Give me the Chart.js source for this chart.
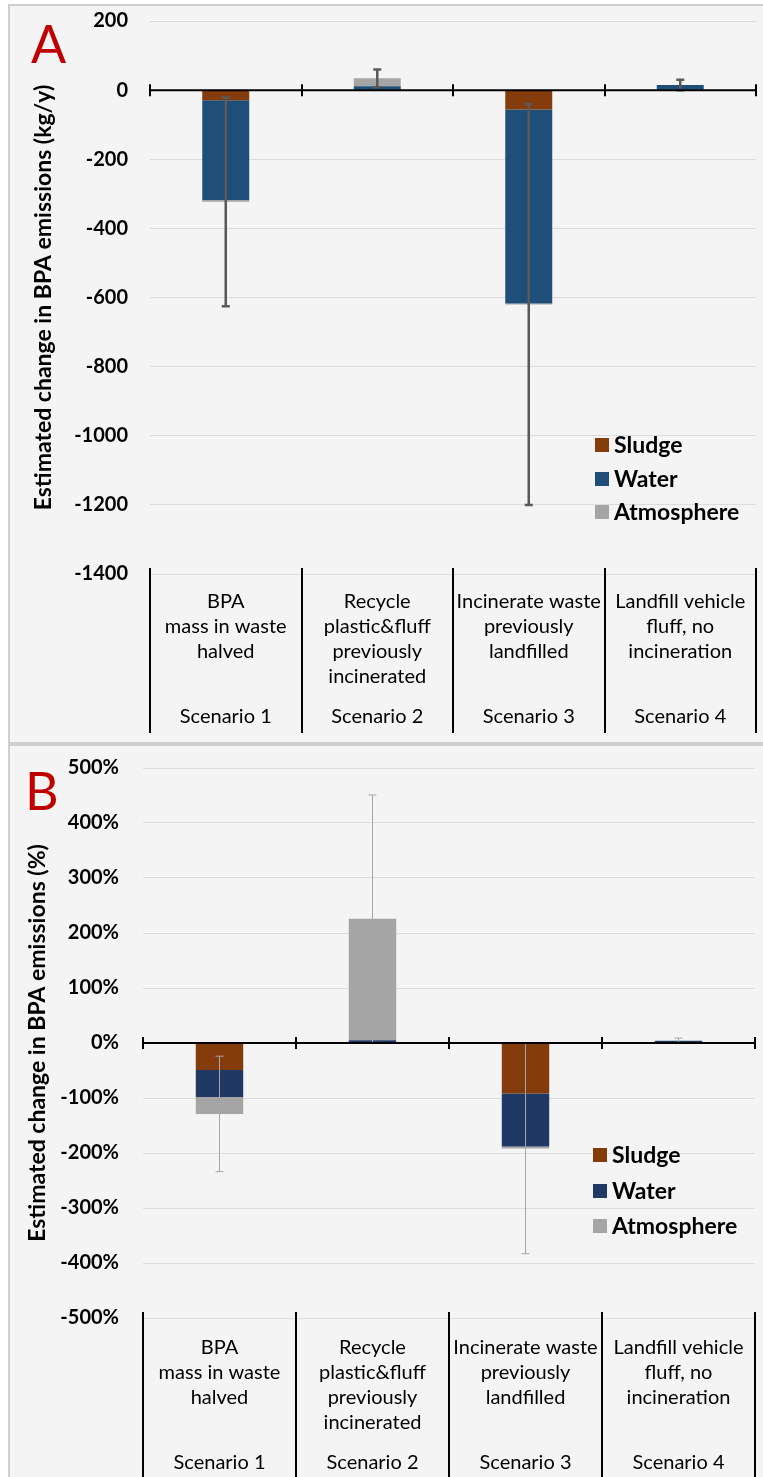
<!DOCTYPE html>
<html>
<head>
<meta charset="utf-8">
<script src="https://cdn.jsdelivr.net/npm/chart.js@4.4.0/dist/chart.umd.min.js"></script>
<style>
  html, body { margin: 0; padding: 0; background: #fff; }
  body { width: 763px; height: 1477px; position: relative; overflow: hidden; }
  .panel { position: absolute; left: 8px; width: 755px; background: #f4f4f4; box-sizing: border-box;
           border-left: 2px solid #cfcfcf; border-top: 2px solid #cfcfcf; }
  #panelA { top: 4px; height: 740px; border-bottom: 2px solid #cfcfcf; }
  #panelB { top: 744px; height: 733px; }
  .wrap { position: absolute; left: 0; width: 763px; }
  #wrapA { top: 0; height: 742px; }
  #wrapB { top: 745px; height: 732px; }
</style>
</head>
<body>
<div class="panel" id="panelA"></div>
<div class="panel" id="panelB"></div>
<div class="wrap" id="wrapA"><canvas id="chartA"></canvas></div>
<div class="wrap" id="wrapB"><canvas id="chartB"></canvas></div>
<script>
// categories
var scenarioNames = ['Scenario 1', 'Scenario 2', 'Scenario 3', 'Scenario 4'];
var scenarioText = [
  ['BPA', 'mass in waste', 'halved'],
  ['Recycle', 'plastic&fluff', 'previously', 'incinerated'],
  ['Incinerate waste', 'previously', 'landfilled'],
  ['Landfill vehicle', 'fluff, no', 'incineration']
];
var seriesNames = ['Sludge', 'Water', 'Atmosphere'];

// panel A: kg/y
var sludgeKg = [-29, 0, -56, 0];
var waterKg = [-289, 11, -561, 15];
var atmosKg = [-5, 23, -3, 0];
var errKg = [302, 26, 580, 15];
var ticksKg = [200, 0, -200, -400, -600, -800, -1000, -1200, -1400];

// panel B: %
var sludgePct = [-49, 0, -92, 0];
var waterPct = [-49, 5, -96, 4];
var atmosPct = [-31, 221, -4, 0];
var errPct = [105, 225, 191, 5];
var ticksPct = [500, 400, 300, 200, 100, 0, -100, -200, -300, -400, -500];

var FONT = 'Lato, "Open Sans", sans-serif';

var scenarioAxis = {
  id: 'scenarioAxis',
  afterDatasetsDraw: function(chart, args, o) {
    var ctx = chart.ctx, area = chart.chartArea;
    var x = chart.scales.x, y = chart.scales.y;
    var n = chart.data.labels.length;
    var half = (x.getPixelForValue(1) - x.getPixelForValue(0)) / 2;
    var y0 = y.getPixelForValue(0);
    ctx.save();

    // error bars on the stack totals
    ctx.strokeStyle = o.errColor;
    ctx.lineWidth = o.errWidth;
    for (var i = 0; i < n; i++) {
      var total = 0;
      chart.data.datasets.forEach(function(ds) { total += ds.data[i]; });
      var cx = x.getPixelForValue(i);
      var top = y.getPixelForValue(total + o.errors[i]);
      var bot = y.getPixelForValue(total - o.errors[i]);
      ctx.beginPath();
      ctx.moveTo(cx, top); ctx.lineTo(cx, bot);
      ctx.moveTo(cx - o.cap, top); ctx.lineTo(cx + o.cap, top);
      ctx.moveTo(cx - o.cap, bot); ctx.lineTo(cx + o.cap, bot);
      ctx.stroke();
    }

    // zero line with boundary ticks, and separators under the plot
    ctx.strokeStyle = '#000';
    ctx.lineWidth = 2;
    ctx.beginPath();
    ctx.moveTo(area.left, y0); ctx.lineTo(area.right, y0);
    for (var b = 0; b <= n; b++) {
      var bx = Math.round(x.getPixelForValue(0) - half + b * 2 * half);
      ctx.moveTo(bx, y0 - 6); ctx.lineTo(bx, y0 + 6);
      ctx.moveTo(bx, area.bottom - 6); ctx.lineTo(bx, area.bottom + o.sepLen);
    }
    ctx.stroke();

    // category text
    ctx.fillStyle = '#000';
    ctx.textAlign = 'center';
    ctx.textBaseline = 'middle';
    ctx.font = o.catFont;
    for (var j = 0; j < n; j++) {
      var px = x.getPixelForValue(j);
      scenarioText[j].forEach(function(line, k) {
        ctx.fillText(line, px, area.bottom + o.textTop + k * o.lineH);
      });
      ctx.fillText(scenarioNames[j], px, area.bottom + o.scenTop);
    }

    // panel letter
    ctx.fillStyle = '#c00000';
    ctx.textAlign = 'left';
    ctx.textBaseline = 'alphabetic';
    ctx.font = '52px ' + FONT;
    ctx.fillText(o.tag, o.tagX, o.tagY);

    // legend
    ctx.font = 'bold 23px ' + FONT;
    ctx.textBaseline = 'middle';
    chart.data.datasets.forEach(function(ds, k) {
      var ly = area.bottom - o.legRows[k];
      var lx = area.right - o.legRight;
      ctx.fillStyle = ds.backgroundColor;
      ctx.fillRect(lx, ly - 7, 14, 14);
      ctx.fillStyle = '#000';
      ctx.fillText(ds.label, lx + 19, ly + 1);
    });
    ctx.restore();
  }
};

function makeChart(id, sets, colors, ticks, yTitle, fmt, layout, o) {
  return new Chart(document.getElementById(id), {
    type: 'bar',
    data: {
      labels: scenarioNames,
      datasets: sets.map(function(d, k) {
        return {
          label: seriesNames[k],
          data: d,
          backgroundColor: colors[k],
          borderWidth: 0,
          barPercentage: 0.31,
          categoryPercentage: 1
        };
      })
    },
    options: {
      responsive: true,
      maintainAspectRatio: false,
      animation: false,
      layout: { padding: layout.padding },
      plugins: { legend: { display: false }, tooltip: { enabled: false }, scenarioAxis: o },
      scales: {
        x: { stacked: true, display: false },
        y: {
          stacked: true,
          min: ticks[ticks.length - 1],
          max: ticks[0],
          afterFit: function(s) { s.width = layout.axisWidth; },
          ticks: {
            stepSize: ticks[0] - ticks[1],
            padding: 2,
            color: '#000',
            font: { family: FONT, size: 20, weight: 'bold' },
            callback: fmt
          },
          // invisible tick marks keep the labels away from the plot edge
          grid: { color: '#dcdcdc', lineWidth: 1, drawTicks: true, tickLength: layout.tickPad - 2, tickColor: 'rgba(0,0,0,0)' },
          border: { display: false },
          title: {
            display: true,
            text: yTitle,
            color: '#000',
            font: { family: FONT, size: 23, weight: 'bold' },
            padding: { top: layout.titlePad, bottom: 0 }
          }
        }
      }
    },
    plugins: [scenarioAxis]
  });
}

makeChart('chartA', [sludgeKg, waterKg, atmosKg], ['#843c0c', '#1f4e79', '#a5a5a5'], ticksKg,
  'Estimated change in BPA emissions (kg/y)', function(v) { return v; },
  { padding: { left: 0, right: 7, top: 21, bottom: 168 }, axisWidth: 150, tickPad: 22, titlePad: 30 },
  { errors: errKg, errColor: '#595959', errWidth: 2.5, cap: 4, sepLen: 159, catFont: '20px ' + FONT,
    textTop: 28, lineH: 25, scenTop: 143, tag: 'A', tagX: 31, tagY: 63,
    legRight: 161, legRows: [129, 95, 62] });

makeChart('chartB', [sludgePct, waterPct, atmosPct], ['#843c0c', '#203864', '#a5a5a5'], ticksPct,
  'Estimated change in BPA emissions (%)', function(v) { return v + '%'; },
  { padding: { left: 0, right: 8, top: 23, bottom: 159 }, axisWidth: 143, tickPad: 24, titlePad: 24 },
  { errors: errPct, errColor: '#a6a6a6', errWidth: 1, cap: 4, sepLen: 170, catFont: '20px ' + FONT,
    textTop: 30, lineH: 25, scenTop: 145, tag: 'B', tagX: 25, tagY: 65,
    legRight: 162, legRows: [163, 127, 92] });
</script>
</body>
</html>
